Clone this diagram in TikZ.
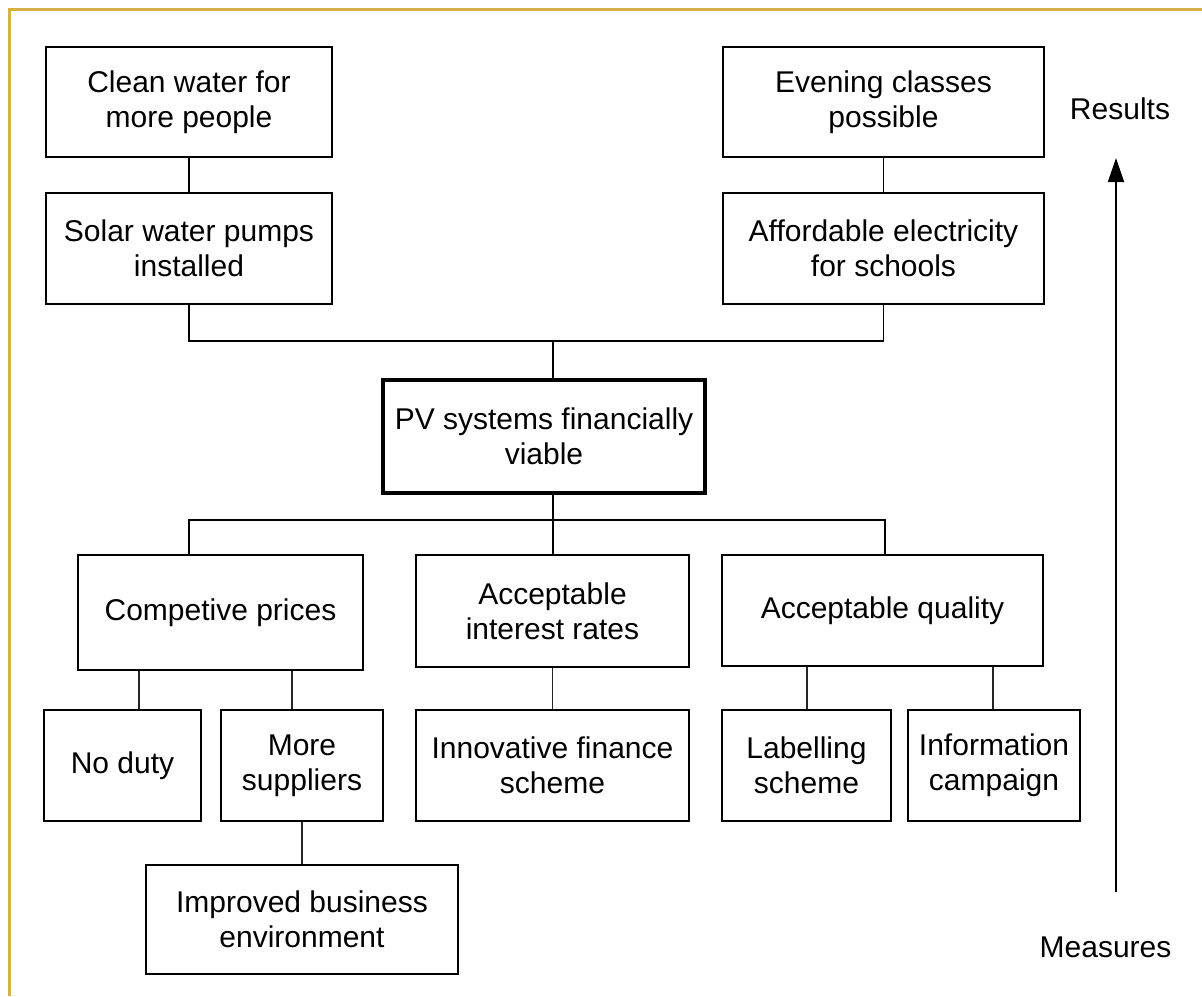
\documentclass[tikz,border=0pt]{standalone}
\usepackage{fontspec}
\setmainfont{Liberation Sans}
\usetikzlibrary{arrows.meta}
\definecolor{framegold}{RGB}{214,176,72}
\begin{document}
\begin{tikzpicture}[x=1pt,y=-1pt,
  box/.style={draw, line width=1.8pt, inner sep=0pt, align=center,
    font=\fontsize{30}{35}\selectfont},
  mainbox/.style={box, line width=4pt},
  conn/.style={line width=1.8pt},
  thinconn/.style={line width=1.2pt, draw=black!85},
  lbl/.style={font=\fontsize{30}{35}\selectfont, anchor=base, inner sep=0pt}]
\useasboundingbox (0,0) rectangle (1202,996);
\fill[white] (0,0) rectangle (1202,996);
\draw[framegold, line width=3pt] (9.5,996) -- (9.5,9.5) -- (1202,9.5);

% Results row
\node[box, minimum width=286pt, minimum height=110pt] (clean) at (189,102) {Clean water for\\more people};
\node[box, minimum width=321pt, minimum height=110pt] (evening) at (883.5,102) {Evening classes\\possible};
\node[box, minimum width=286pt, minimum height=111pt] (solar) at (189,248.5) {Solar water pumps\\installed};
\node[box, minimum width=321pt, minimum height=111pt] (afford) at (883.5,248.5) {Affordable electricity\\for schools};

% central
\node[mainbox, minimum width=322pt, minimum height=113pt] (pv) at (544,436.5) {PV systems financially\\viable};

% third row
\node[box, minimum width=285pt, minimum height=115pt] (comp) at (220.5,612.5) {Competive prices};
\node[box, minimum width=273pt, minimum height=112pt] (interest) at (552.5,611) {Acceptable\\interest rates};
\node[box, minimum width=321pt, minimum height=111pt] (quality) at (882.5,610.5) {Acceptable quality};

% measures row
\node[box, minimum width=157pt, minimum height=111pt] (noduty) at (122.5,765.5) {No duty};
\node[box, minimum width=162pt, minimum height=111pt] (more) at (302,765.5) {More\\suppliers};
\node[box, minimum width=273pt, minimum height=111pt] (innov) at (552.5,765.5) {Innovative finance\\scheme};
\node[box, minimum width=169pt, minimum height=111pt] (label) at (806.5,765.5) {Labelling\\scheme};
\node[box, minimum width=172pt, minimum height=111pt] (info) at (994,765.5) {Information\\campaign};
\node[box, minimum width=312pt, minimum height=109pt] (improved) at (302,919.5) {Improved business\\environment};

% connectors, upper part
\draw[conn] (clean.south) -- (solar.north);
\draw[conn] (evening.south) -- (afford.north);
\coordinate (bus1) at (553,341);
\draw[conn] (solar.south) |- (afford.south |- bus1) -- (afford.south);
\draw[conn] (bus1) -- (pv.north -| bus1);

% connectors, lower bus
\coordinate (bus2) at (553,520);
\coordinate (d1) at (189,520);
\coordinate (d3) at (885,520);
\draw[conn] (pv.south -| bus2) -- (bus2);
\draw[conn] (d1 |- comp.north) -- (d1) -- (d3) -- (d3 |- quality.north);
\draw[conn] (bus2) -- (bus2 |- interest.north);

% connectors to measures
\coordinate (c1) at (139,690);
\coordinate (c2) at (292,690);
\coordinate (c3) at (807,690);
\coordinate (c4) at (993,690);
\draw[thinconn] (comp.south -| c1) -- (noduty.north -| c1);
\draw[thinconn] (comp.south -| c2) -- (more.north -| c2);
\draw[thinconn] (interest.south) -- (innov.north);
\draw[thinconn] (quality.south -| c3) -- (label.north -| c3);
\draw[thinconn] (quality.south -| c4) -- (info.north -| c4);
\draw[thinconn] (more.south) -- (improved.north);

% side arrow and labels
\node[lbl] (results) at (1120,119) {Results};
\node[lbl] (measures) at (1105.5,957) {Measures};
\coordinate (abot) at (1116,892);
\coordinate (atop) at (1116,158);
\draw[line width=1.8pt, -{Triangle[length=24pt,width=16pt]}] (abot) -- (atop);
\end{tikzpicture}
\end{document}
